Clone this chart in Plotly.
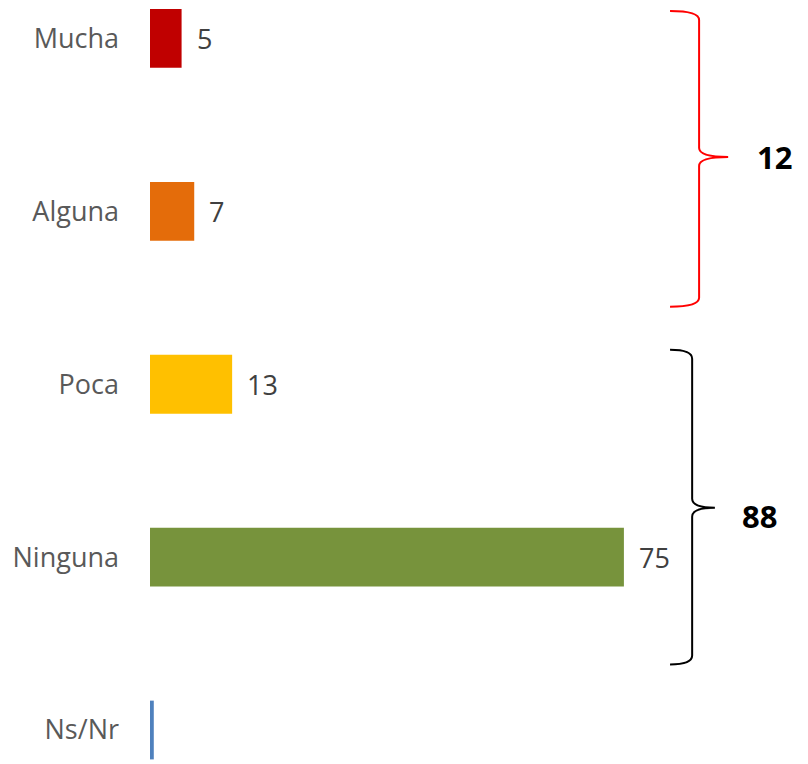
import plotly.graph_objects as go

categories = ["Mucha", "Alguna", "Poca", "Ninguna", "Ns/Nr"]
values = [5, 7, 13, 75, 0.6]
value_labels = ["5", "7", "13", "75", ""]
colors = ["#C00000", "#E46C0A", "#FFC000", "#77933C", "#4F81BD"]

group_high = ["Mucha", "Alguna"]
group_low = ["Poca", "Ninguna"]
total_high = sum(values[categories.index(c)] for c in group_high)
total_low = sum(values[categories.index(c)] for c in group_low)

ypos = list(range(len(categories)))

fig = go.Figure()
fig.add_trace(go.Bar(
    x=values, y=ypos, orientation="h",
    marker=dict(color=colors, line=dict(width=0)),
    width=0.34, hoverinfo="skip",
))

for yv, v, lab in zip(ypos, values, value_labels):
    if lab:
        fig.add_annotation(x=v, y=yv, text=lab, showarrow=False,
                           xanchor="left", yanchor="middle", xshift=13,
                           font=dict(family="Open Sans", size=27, color="#404040"))


def brace(x_tip, x_spine, x_point, y_top, y_mid, y_bot, r=0.052):
    return (f"M {x_tip},{y_top} Q {x_spine},{y_top} {x_spine},{y_top + r} "
            f"L {x_spine},{y_mid - r} Q {x_spine},{y_mid} {x_point},{y_mid} "
            f"Q {x_spine},{y_mid} {x_spine},{y_mid + r} "
            f"L {x_spine},{y_bot - r} Q {x_spine},{y_bot} {x_tip},{y_bot}")


fig.add_shape(type="path", xref="x", yref="y",
              path=brace(82.3, 86.9, 91.5, -0.159, 0.685, 1.552),
              line=dict(color="#FF0000", width=2))
fig.add_shape(type="path", xref="x", yref="y",
              path=brace(82.3, 85.8, 89.4, 1.80, 2.714, 3.621),
              line=dict(color="#000000", width=2))

fig.add_annotation(x=98.9, y=0.685, text=f"<b>{total_high:g}</b>", showarrow=False,
                   font=dict(family="Open Sans", size=31, color="#000000"))
fig.add_annotation(x=96.5, y=2.76, text=f"<b>{total_low:g}</b>", showarrow=False,
                   font=dict(family="Open Sans", size=31, color="#000000"))

fig.update_layout(
    width=808, height=764,
    margin=dict(l=142, r=0, t=0, b=0),
    paper_bgcolor="white", plot_bgcolor="white",
    showlegend=False,
    xaxis=dict(range=[0, 105.4], visible=False, fixedrange=True),
    yaxis=dict(range=[4.2428, -0.1763], tickvals=ypos, ticktext=categories,
               showgrid=False, zeroline=False, showline=False, ticks="",
               ticklabelstandoff=30,
               tickfont=dict(family="Open Sans", size=27, color="#595959")),
)

fig.write_html("out.html")
